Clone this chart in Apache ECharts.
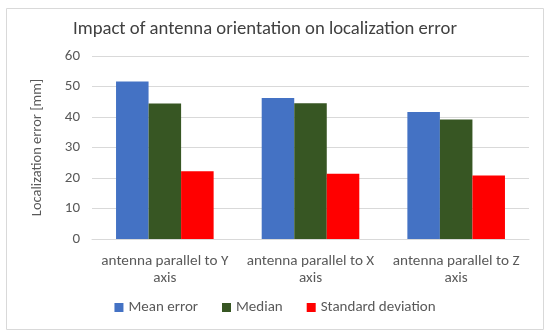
<!DOCTYPE html>
<html><head><meta charset="utf-8">
<script src="https://cdn.jsdelivr.net/npm/echarts@6/dist/echarts.min.js"></script>
<style>html,body{margin:0;padding:0;background:#fff}#c{width:550px;height:333px}</style>
</head><body><div id="c"></div>
<script>
var categories = ['antenna parallel to Y\naxis', 'antenna parallel to X\naxis', 'antenna parallel to Z\naxis'];
var meanError = [51.6, 46.2, 41.6];
var median = [44.4, 44.5, 39.2];
var stdDev = [22.2, 21.4, 20.8];
var seriesNames = ['Mean error', 'Median', 'Standard deviation'];
var colors = ['#4472C4', '#375623', '#FF0000'];

var chart = echarts.init(document.getElementById('c'));
var font = 'Calibri, Carlito, Lato, "Open Sans", sans-serif';
chart.setOption({
  animation: false,
  graphic: [{type: 'rect', shape: {x: 6.5, y: 8.5, width: 537, height: 321}, style: {fill: 'none', stroke: '#d9d9d9', lineWidth: 1}}],
  title: {text: 'Impact of antenna orientation on localization error', left: 68, top: 15,
    textStyle: {fontFamily: font, fontSize: 18.7, fontWeight: 'normal', color: '#404040'}},
  legend: {bottom: 13, left: 'center', itemWidth: 9, itemHeight: 9, itemGap: 24, icon: 'rect',
    textStyle: {fontFamily: font, fontSize: 15, color: '#595959'}},
  grid: {left: 92, right: 21, top: 56, bottom: 94},
  xAxis: {type: 'category', data: categories,
    axisLine: {lineStyle: {color: '#d9d9d9'}}, axisTick: {show: false},
    axisLabel: {fontFamily: font, fontSize: 15.2, color: '#595959', lineHeight: 17, margin: 14, interval: 0}},
  yAxis: {type: 'value', min: 0, max: 60, interval: 10, name: 'Localization error [mm]',
    nameLocation: 'middle', nameGap: 47, nameRotate: 90,
    nameTextStyle: {fontFamily: font, fontSize: 14.5, color: '#595959'},
    axisLine: {show: false}, axisTick: {show: false},
    axisLabel: {fontFamily: font, fontSize: 15, color: '#595959', margin: 12},
    splitLine: {lineStyle: {color: '#d9d9d9'}}},
  series: [
    {name: seriesNames[0], type: 'bar', data: meanError, itemStyle: {color: colors[0]}, barGap: '0%', barCategoryGap: '33%'},
    {name: seriesNames[1], type: 'bar', data: median, itemStyle: {color: colors[1]}},
    {name: seriesNames[2], type: 'bar', data: stdDev, itemStyle: {color: colors[2]}}
  ]
});
</script></body></html>
